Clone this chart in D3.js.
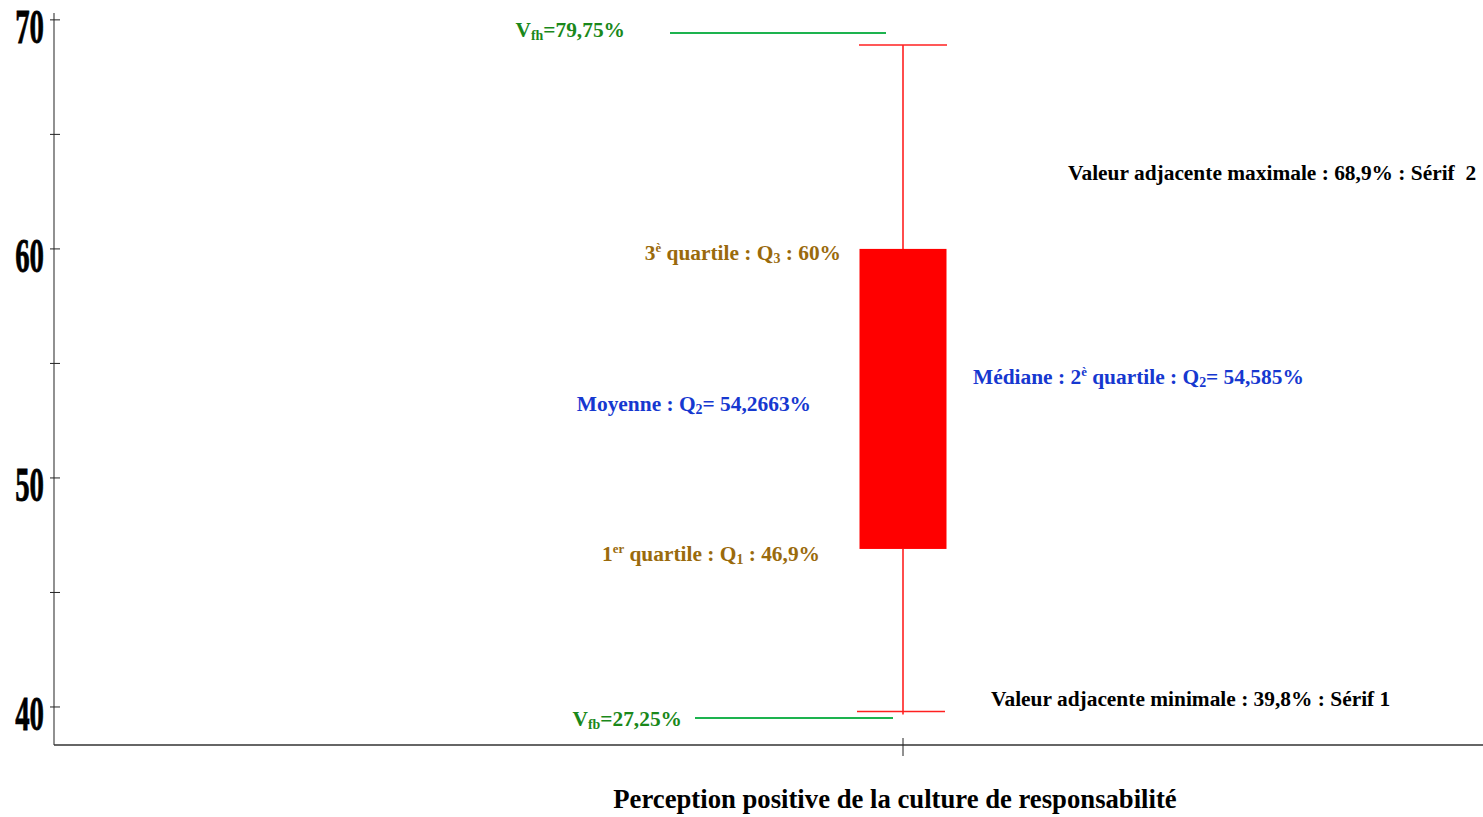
<!DOCTYPE html>
<html><head><meta charset="utf-8">
<script src="https://cdn.jsdelivr.net/npm/d3@7"></script>
<style>
html,body{margin:0;padding:0;background:#fff;}
svg{display:block;font-family:"Liberation Serif","Times New Roman",serif;font-weight:bold;}
</style></head>
<body><svg id="chart" width="1483" height="817"></svg>
<script>
// ---- data ----
const category = ["Perception positive de la culture de responsabilité"];
const yTicks = [40, 50, 60, 70];
const yMinorTicks = [45, 55, 65];
const quartiles = [46.9, 54.585, 60];      // Q1, median, Q3
const whiskers = [39.8, 68.9];             // adjacent min, max
const meanValue = [54.2663];
const fences = [27.25, 79.75];             // Vfb, Vfh (off scale)
const fenceShownAt = [39.52, 69.43];       // where the fence lines are drawn (clamped into view)

const svg = d3.select("#chart");
const mLeft = 54, mRight = 1483, mTop = 13, mBottom = 745;

const y = d3.scaleLinear().domain([38.34, 70.3]).range([mBottom, mTop]);
const x = d3.scalePoint().domain(category).range([mLeft, 2 * 903 - mLeft]);
const cx = x(category[0]);

// axes
svg.append("line").attr("x1", mLeft).attr("x2", mLeft).attr("y1", mTop).attr("y2", mBottom)
  .attr("stroke", "#555").attr("stroke-width", 1.3);
svg.append("line").attr("x1", mLeft).attr("x2", mRight).attr("y1", mBottom).attr("y2", mBottom)
  .attr("stroke", "#333").attr("stroke-width", 1.3);

svg.selectAll(".ytick").data(yTicks.concat(yMinorTicks)).join("line")
  .attr("x1", mLeft - 4).attr("x2", mLeft + 6)
  .attr("y1", d => y(d)).attr("y2", d => y(d))
  .attr("stroke", "#222").attr("stroke-width", 1);

svg.selectAll(".ylab").data(yTicks).join("text")
  .attr("transform", d => `translate(${mLeft - 10},${y(d) + 23}) scale(0.6,1)`)
  .attr("text-anchor", "end").attr("font-size", 48).attr("fill", "#000")
  .attr("stroke", "#000").attr("stroke-width", 0.8)
  .text(d => d);

svg.append("line").attr("x1", cx).attr("x2", cx).attr("y1", mBottom - 7).attr("y2", mBottom + 11)
  .attr("stroke", "#222").attr("stroke-width", 1);

// fences (green)
const fenceSpans = [[695, 893], [670, 886]];
svg.selectAll(".fence").data(fenceShownAt).join("line")
  .attr("x1", (d, i) => fenceSpans[i][0]).attr("x2", (d, i) => fenceSpans[i][1])
  .attr("y1", d => y(d)).attr("y2", d => y(d))
  .attr("stroke", "#1db34f").attr("stroke-width", 2);

// whiskers
const boxW = 87, capW = 88;
svg.append("line").attr("x1", cx).attr("x2", cx).attr("y1", y(whiskers[1])).attr("y2", y(quartiles[2]))
  .attr("stroke", "#ff0000").attr("stroke-width", 1.4);
svg.append("line").attr("x1", cx).attr("x2", cx).attr("y1", y(quartiles[0])).attr("y2", y(whiskers[0]) + 3)
  .attr("stroke", "#ff0000").attr("stroke-width", 1.4);
svg.selectAll(".cap").data(whiskers).join("line")
  .attr("x1", (d, i) => cx - capW / 2 - (i === 0 ? 2 : 0)).attr("x2", (d, i) => cx + capW / 2 - (i === 0 ? 2 : 0))
  .attr("y1", d => y(d)).attr("y2", d => y(d))
  .attr("stroke", "#ff2020").attr("stroke-width", 1.5);

// box
svg.append("rect").attr("x", cx - boxW / 2).attr("width", boxW)
  .attr("y", y(quartiles[2])).attr("height", y(quartiles[0]) - y(quartiles[2]))
  .attr("fill", "#ff0000");

// labels
const green = "#1a881a", brown = "#9a6a0c", blue = "#1638d0";
const fs = 21.4;
function label(xp, yp, anchor, color, parts, size) {
  const sz = size || fs;
  const t = svg.append("text").attr("x", xp).attr("y", yp).attr("text-anchor", anchor)
    .attr("fill", color).attr("font-size", sz);
  parts.forEach(p => {
    const s = t.append("tspan").text(p[0]);
    if (p[1] === "sup") s.attr("font-size", sz * 0.6).attr("baseline-shift", "60%");
    else if (p[1] === "sub") s.attr("font-size", sz * 0.65).attr("baseline-shift", "-20%");
  });
  return t;
}
const fmt = v => String(v).replace(".", ",");

label(625, 37, "end", green, [["V"], ["fh", "sub"], ["=" + fmt(fences[1]) + "%"]]);
label(682, 726, "end", green, [["V"], ["fb", "sub"], ["=" + fmt(fences[0]) + "%"]]);
label(841, 260, "end", brown, [["3"], ["è", "sup"], [" quartile : Q"], ["3", "sub"], [" : " + fmt(quartiles[2]) + "%"]]);
label(820, 561, "end", brown, [["1"], ["er", "sup"], [" quartile : Q"], ["1", "sub"], [" : " + fmt(quartiles[0]) + "%"]]);
label(811, 411, "end", blue, [["Moyenne : Q"], ["2", "sub"], ["= " + fmt(meanValue[0]) + "%"]]);
label(973, 384, "start", blue, [["Médiane : 2"], ["è", "sup"], [" quartile : Q"], ["2", "sub"], ["= " + fmt(quartiles[1]) + "%"]]);
label(1068, 180, "start", "#000", [["Valeur adjacente maximale : " + fmt(whiskers[1]) + "% : Sérif\u00a0 2"]]);
label(991, 706, "start", "#000", [["Valeur adjacente minimale : " + fmt(whiskers[0]) + "% : Sérif 1"]]);

svg.append("text").attr("x", 895).attr("y", 808).attr("text-anchor", "middle")
  .attr("font-size", 26.7).attr("fill", "#000").text(category[0]);
</script></body></html>
